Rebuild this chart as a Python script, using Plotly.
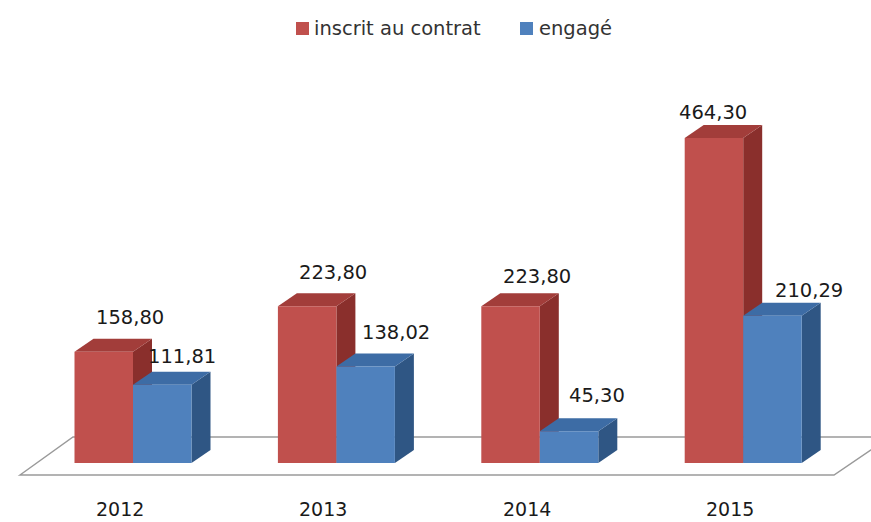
import plotly.graph_objects as go

# --- data -------------------------------------------------------------
years = ["2012", "2013", "2014", "2015"]
inscrit = [158.80, 223.80, 223.80, 464.30]
engage = [111.81, 138.02, 45.30, 210.29]
series_names = ["inscrit au contrat", "engagé"]

# --- styling ------------------------------------------------------------
W, H = 871, 522
RED = dict(front="#C0504D", top="#A23D3A", side="#8A2F2C")
BLUE = dict(front="#4F81BD", top="#3D6CA5", side="#2F5684")
FONT = "DejaVu Sans"

# axis scales: group spacing in px, value scale in px per unit
PX_GROUP = 203.4
X_FIRST_PX = 133.0
PX_PER_UNIT = 0.70
BASE_PX = 463.0

x0 = -X_FIRST_PX / PX_GROUP
x1 = x0 + W / PX_GROUP
y0 = -(H - BASE_PX) / PX_PER_UNIT
y1 = y0 + H / PX_PER_UNIT

bar_w = 58.5 / PX_GROUP          # width of one bar in x units
depth_dx = 19.0 / PX_GROUP       # 3D depth shift (x units)
depth_dy = 13.0 / PX_PER_UNIT    # 3D depth shift (value units)

centers = list(range(len(years)))

fig = go.Figure()
fig.add_trace(go.Bar(x=centers, y=inscrit, width=bar_w, offset=-bar_w,
                     marker=dict(color=RED["front"], line=dict(width=0)),
                     name=series_names[0], showlegend=False))
fig.add_trace(go.Bar(x=centers, y=engage, width=bar_w, offset=0,
                     marker=dict(color=BLUE["front"], line=dict(width=0)),
                     name=series_names[1], showlegend=False))


def poly(pts):
    return "M " + " L ".join(f"{px:.5f},{py:.4f}" for px, py in pts) + " Z"


def to_x(px):
    return (px - X_FIRST_PX) / PX_GROUP


def to_y(py):
    return (BASE_PX - py) / PX_PER_UNIT


shapes = []
# floor
floor = [(to_x(20), to_y(475)), (to_x(73), to_y(437)),
         (to_x(890), to_y(437)), (to_x(834), to_y(475))]
shapes.append(dict(type="path", path=poly(floor), xref="x", yref="y",
                   fillcolor="white", line=dict(color="#9A9A9A", width=1.5),
                   layer="below"))

# top and side faces of each box
for i, c in enumerate(centers):
    for xl, v, col in ((c - bar_w, inscrit[i], RED), (c, engage[i], BLUE)):
        xr = xl + bar_w
        side = [(xr, 0), (xr, v), (xr + depth_dx, v + depth_dy), (xr + depth_dx, depth_dy)]
        top = [(xl, v), (xr, v), (xr + depth_dx, v + depth_dy), (xl + depth_dx, v + depth_dy)]
        shapes.append(dict(type="path", path=poly(side), xref="x", yref="y",
                           fillcolor=col["side"], line=dict(width=0), layer="below"))
        shapes.append(dict(type="path", path=poly(top), xref="x", yref="y",
                           fillcolor=col["top"], line=dict(width=0), layer="below"))

# legend squares
shapes.append(dict(type="rect", xref="paper", yref="paper",
                   x0=296 / W, x1=309 / W, y0=1 - 35 / H, y1=1 - 22 / H,
                   fillcolor=RED["front"], line=dict(width=0)))
shapes.append(dict(type="rect", xref="paper", yref="paper",
                   x0=520 / W, x1=533 / W, y0=1 - 35 / H, y1=1 - 22 / H,
                   fillcolor=BLUE["front"], line=dict(width=0)))

annotations = []
# legend texts
annotations.append(dict(x=312 / W, y=1 - 28.5 / H, xref="paper", yref="paper",
                        text=series_names[0], showarrow=False, xanchor="left",
                        yanchor="middle", font=dict(family=FONT, size=19.5, color="#333333")))
annotations.append(dict(x=537 / W, y=1 - 28.5 / H, xref="paper", yref="paper",
                        text=series_names[1], showarrow=False, xanchor="left",
                        yanchor="middle", font=dict(family=FONT, size=19.5, color="#333333")))

# value labels (offsets in px from the top-centre of each front face)
red_shift = [(26, 34), (26, 34), (26, 30), (-1, 25)]
blue_shift = [(20, 28), (30, 34), (28, 36), (37, 25)]


def fmt(v):
    return f"{v:.2f}".replace(".", ",")


for i, c in enumerate(centers):
    for xc, v, (dx, dy) in ((c - bar_w / 2, inscrit[i], red_shift[i]),
                            (c + bar_w / 2, engage[i], blue_shift[i])):
        annotations.append(dict(x=xc, y=v, xref="x", yref="y", text=fmt(v),
                                showarrow=False, xanchor="center", yanchor="middle",
                                xshift=dx, yshift=dy,
                                font=dict(family=FONT, size=19.5, color="#1A1A1A")))

# category labels under the floor
for i, c in enumerate(centers):
    annotations.append(dict(x=c, y=to_y(509), xref="x", yref="y", text=years[i],
                            showarrow=False, xanchor="center", yanchor="middle",
                            xshift=-13, font=dict(family=FONT, size=19, color="#1A1A1A")))

fig.update_layout(
    width=W, height=H, autosize=False,
    margin=dict(l=0, r=0, t=0, b=0),
    paper_bgcolor="white", plot_bgcolor="white",
    barmode="overlay", showlegend=False,
    xaxis=dict(range=[x0, x1], visible=False, fixedrange=True),
    yaxis=dict(range=[y0, y1], visible=False, fixedrange=True),
    shapes=shapes, annotations=annotations,
)

fig.write_html("out.html")
